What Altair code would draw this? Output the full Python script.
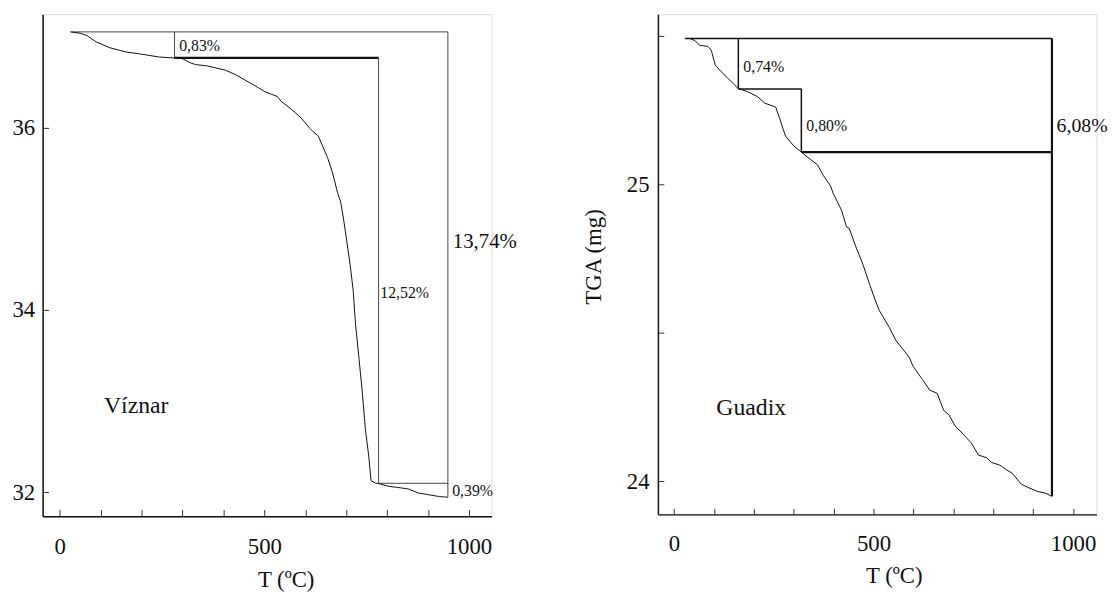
import altair as alt
import pandas as pd

FONT = "Liberation Serif"

# ---------------- Víznar (left) ----------------
left_T = [26.7, 50.0, 66.2, 90.3, 122.6, 162.8, 203.1, 243.4, 280.5, 299.8,
          320.0, 332.1, 360.2, 380.4, 404.6, 428.7, 452.9, 477.1, 501.3, 517.4,
          531.9, 541.5, 565.7, 589.9, 610.0, 618.1, 631.8, 642.3, 654.4, 666.4,
          678.5, 686.6, 694.6, 702.7, 710.7, 717.2, 722.8, 730.9, 738.9, 747.0,
          755.1, 760.7, 771.2, 779.2, 803.4, 823.5, 851.8, 875.9, 904.1, 928.3,
          948.5]
left_mass = [37.054, 37.039, 37.014, 36.941, 36.880, 36.833, 36.807, 36.778, 36.768, 36.760,
             36.713, 36.695, 36.681, 36.659, 36.634, 36.587, 36.525, 36.463, 36.398, 36.369,
             36.344, 36.290, 36.206, 36.109, 36.000, 35.964, 35.910, 35.801, 35.674, 35.511,
             35.294, 35.185, 34.968, 34.715, 34.461, 34.208, 33.846, 33.484, 33.122, 32.687,
             32.398, 32.126, 32.101, 32.094, 32.065, 32.054, 32.036, 31.992, 31.970, 31.952,
             31.945]

# step construction segments (x, x2, y, y2)
left_seg_x = [26.7, 280.5, 280.5, 779.2, 779.2, 948.5]
left_seg_x2 = [948.5, 280.5, 779.2, 779.2, 948.5, 948.5]
left_seg_y = [37.054, 37.054, 36.768, 36.768, 32.098, 37.054]
left_seg_y2 = [37.054, 36.768, 36.768, 32.098, 32.098, 31.945]
left_seg_w = [1.0, 1.0, 2.2, 1.0, 1.0, 1.0]
left_seg_c = ["#444", "#444", "#111", "#444", "#444", "#444"]

left_lab_text = ["0,83%", "12,52%", "13,74%", "0,39%", "Víznar"]
left_lab_T = [291.8, 783.2, 960.6, 958.9, 108.0]
left_lab_m = [36.847, 34.132, 34.678, 31.956, 32.869]
left_lab_fs = [16, 16, 21, 16, 24]

# ---------------- Guadix (right) ----------------
right_T = [27.3, 39.7, 52.1, 64.5, 85.1, 93.4, 103.3, 118.2, 134.7, 161.2,
           184.3, 209.1, 227.3, 254.6, 262.8, 279.4, 300.0, 319.1, 341.4, 359.5,
           374.4, 392.6, 399.2, 419.9, 432.3, 438.9, 457.1, 473.6, 490.2, 505.1,
           514.9, 539.7, 556.2, 572.8, 589.3, 599.2, 622.4, 640.5, 659.6, 676.1,
           688.6, 705.1, 725.7, 744.8, 762.9, 783.5, 795.9, 816.6, 833.1, 847.2,
           870.3, 886.9, 911.7, 932.3, 946.4]
right_mass = [25.493, 25.493, 25.486, 25.470, 25.466, 25.453, 25.403, 25.381, 25.359, 25.324,
              25.314, 25.297, 25.275, 25.262, 25.231, 25.164, 25.131, 25.110, 25.086, 25.067,
              25.031, 24.995, 24.970, 24.914, 24.858, 24.853, 24.786, 24.731, 24.664, 24.608,
              24.575, 24.519, 24.475, 24.447, 24.419, 24.388, 24.344, 24.308, 24.297, 24.239,
              24.225, 24.186, 24.158, 24.130, 24.089, 24.080, 24.064, 24.055, 24.039, 24.028,
              23.991, 23.980, 23.966, 23.960, 23.950]

right_seg_x = [27.3, 161.2, 161.2, 319.1, 319.1, 947.2]
right_seg_x2 = [947.2, 161.2, 319.1, 319.1, 947.2, 947.2]
right_seg_y = [25.493, 25.493, 25.323, 25.323, 25.110, 25.493]
right_seg_y2 = [25.493, 25.323, 25.323, 25.110, 25.110, 23.950]
right_seg_w = [1.5, 1.5, 1.5, 1.5, 2.2, 2.2]
right_seg_c = ["#111"] * 6

right_lab_text = ["0,74%", "0,80%", "6,08%", "Guadix"]
right_lab_T = [173.6, 331.5, 958.8, 105.9]
right_lab_m = [25.381, 25.181, 25.177, 24.225]
right_lab_fs = [16, 16, 20, 24]

x_ticks = list(range(0, 1001, 100))
left_y_ticks = [32, 34, 36]
right_y_ticks = [24, 24.5, 25, 25.5]


def panel(T, m, sx, sx2, sy, sy2, sw, sc, lt, lT, lm, lfs,
          xdom, ydom, w, h, xaxis, yaxis):
    curve = pd.DataFrame({"T": T, "m": m, "i": range(len(T))})
    seg = pd.DataFrame({"x": sx, "x2": sx2, "y": sy, "y2": sy2, "w": sw, "c": sc})
    lab = pd.DataFrame({"t": lt, "T": lT, "m": lm, "fs": lfs})

    xs = alt.Scale(domain=xdom, nice=False, zero=False)
    ys = alt.Scale(domain=ydom, nice=False, zero=False)

    line = alt.Chart(curve).mark_line(color="#111", strokeWidth=1).encode(
        x=alt.X("T:Q", scale=xs, axis=xaxis),
        y=alt.Y("m:Q", scale=ys, axis=yaxis),
        order="i:Q",
    )
    rules = alt.Chart(seg).mark_rule().encode(
        x=alt.X("x:Q", scale=xs), x2="x2:Q",
        y=alt.Y("y:Q", scale=ys), y2="y2:Q",
        strokeWidth=alt.StrokeWidth("w:Q", scale=None),
        color=alt.Color("c:N", scale=None),
    )
    texts = alt.Chart(lab).mark_text(align="left", baseline="alphabetic",
                                     font=FONT, color="#111").encode(
        x=alt.X("T:Q", scale=xs),
        y=alt.Y("m:Q", scale=ys),
        text="t:N",
        size=alt.Size("fs:Q", scale=None),
    )
    return alt.layer(rules, line, texts).properties(width=w, height=h)


common_axis = dict(
    grid=False, domainColor="#111", domainWidth=1.5, tickColor="#333",
    tickWidth=1, labelFont=FONT, labelFontSize=23, labelColor="#111",
    titleFont=FONT, titleFontSize=23, titleFontWeight="normal", titleColor="#111",
)

left_x_axis = alt.Axis(values=x_ticks, format="d", tickSize={"expr": "-7"},
                       labelExpr="datum.value % 500 === 0 ? datum.label : ''",
                       labelBaseline="alphabetic", labelPadding=44.5,
                       title="T (ºC)", titleX=245.7, titleY=70.6,
                       titleBaseline="alphabetic", titleAlign="center",
                       labelFlush=False, labelOverlap=False, **common_axis)
left_y_axis = alt.Axis(values=left_y_ticks, format="d", tickSize={"expr": "-6"},
                       labelPadding=14, title=None, labelOverlap=False, **common_axis)

right_x_axis = alt.Axis(values=x_ticks, format="d", tickSize={"expr": "-6"},
                        labelExpr="datum.value % 500 === 0 ? datum.label : ''",
                        labelBaseline="alphabetic", labelPadding=43,
                        title="T (ºC)", titleX=238.5, titleY=69.3,
                        titleBaseline="alphabetic", titleAlign="center",
                        labelFlush=False, labelOverlap=False, **common_axis)
right_y_axis = alt.Axis(values=right_y_ticks, format=".1~f", tickSize={"expr": "-6"},
                        labelExpr="datum.value % 1 === 0 ? datum.label : ''",
                        labelPadding=15, title="TGA (mg)", titleAngle=270,
                        titleX=-57.7, titleY=245, titleAlign="center",
                        titleBaseline="alphabetic", labelOverlap=False, **common_axis)

left = panel(left_T, left_mass, left_seg_x, left_seg_x2, left_seg_y, left_seg_y2,
             left_seg_w, left_seg_c, left_lab_text, left_lab_T, left_lab_m, left_lab_fs,
             [-41.8, 1054.9], [31.735, 37.249], 453.7, 507.7,
             left_x_axis, left_y_axis)

right = panel(right_T, right_mass, right_seg_x, right_seg_x2, right_seg_y, right_seg_y2,
              right_seg_w, right_seg_c, right_lab_text, right_lab_T, right_lab_m, right_lab_fs,
              [-40.4, 1058.7], [23.889, 25.575], 443.3, 505.7,
              right_x_axis, right_y_axis)

chart = alt.hconcat(left, right, spacing=65).properties(
    padding={"left": 3, "top": 2, "right": 0, "bottom": 0}
).configure_view(stroke=None).configure(font=FONT)

chart.save("out.html", embed_options={"renderer": "svg", "actions": False})
